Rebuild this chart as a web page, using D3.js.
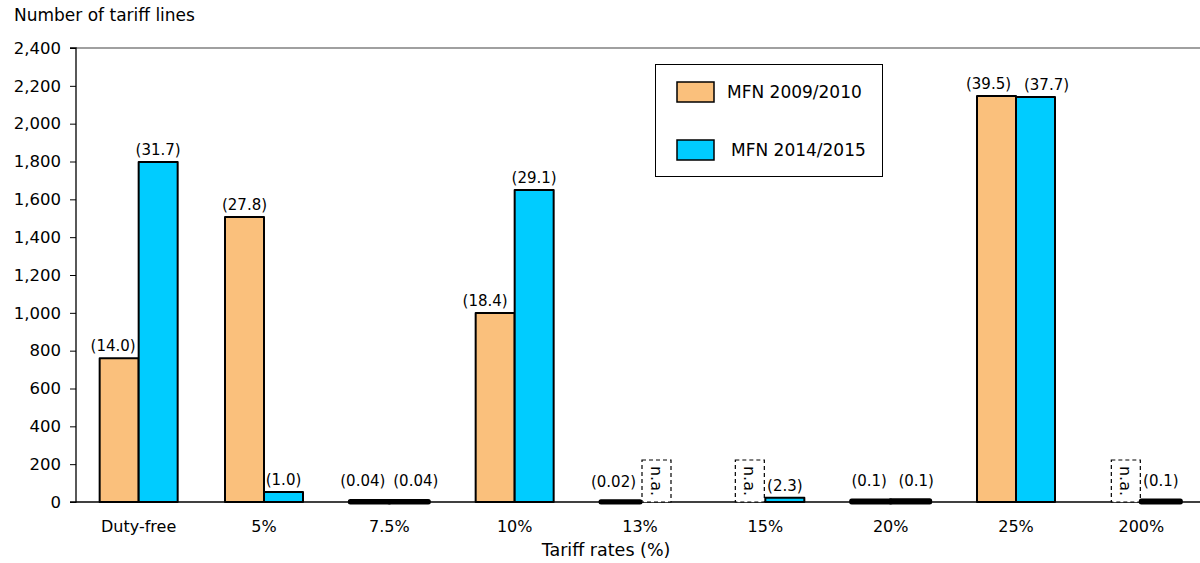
<!DOCTYPE html>
<html><head><meta charset="utf-8">
<script src="https://cdn.jsdelivr.net/npm/d3@7"></script>
<style>body{margin:0;background:#fff}svg{display:block;font-family:"DejaVu Sans",Verdana,sans-serif}</style>
</head><body>
<svg id="c" width="1200" height="563"></svg>
<script>
const categories = ["Duty-free","5%","7.5%","10%","13%","15%","20%","25%","200%"];
const seriesNames = ["MFN 2009/2010","MFN 2014/2015"];
const values2010 = [760, 1507, 3, 999, 1, null, 5, 2146, null];
const values2015 = [1797, 53, 3, 1650, null, 22, 6, 2141, 5];
const labels2010 = ["(14.0)","(27.8)","(0.04)","(18.4)","(0.02)","n.a.","(0.1)","(39.5)","n.a."];
const labels2015 = ["(31.7)","(1.0)","(0.04)","(29.1)","n.a.","(2.3)","(0.1)","(37.7)","(0.1)"];
const yTicks = [0,200,400,600,800,1000,1200,1400,1600,1800,2000,2200,2400];
const colors = ["#FAC07C","#00CCFF"];

// layout: horizontal nudges of value labels (px)
const labelNudge = [
  [-6, 0, -7, -10, -7, 0, -2, -8, 0],
  [0, 0, 7, 0, 0, 0, 6, 11, 0]
];

const svg = d3.select("#c");
const m = {l:76, t:48, b:61};
const W = 1204, H = 563;
const x = d3.scaleBand().domain(categories).range([m.l, W]).paddingInner(0.38).paddingOuter(0.19);
const y = d3.scaleLinear().domain([0,2400]).range([H-m.b, m.t]);
const bw = 39;

svg.append("line").attr("x1",m.l).attr("x2",1200).attr("y1",y(2400)).attr("y2",y(2400)).attr("stroke","#808080").attr("stroke-width",1.3);

const ya = svg.append("g").attr("transform",`translate(${m.l},0)`)
  .call(d3.axisLeft(y).tickValues(yTicks).tickSize(6).tickPadding(9).tickFormat(d3.format(",")));
ya.select(".domain").attr("stroke","#000").attr("stroke-width",1.3).attr("d",`M-6,${y(2400)}H0V${y(0)}H-6`);
ya.selectAll(".tick line").attr("stroke","#000");
ya.selectAll("text").attr("font-size",16.5).attr("font-family","DejaVu Sans").attr("fill","#000");

svg.append("text").attr("x",14).attr("y",21).attr("font-size",17).text("Number of tariff lines");

const series = [values2010, values2015];
const labs = [labels2010, labels2015];
const cx = c => x(c) + x.bandwidth()/2;
const barG = svg.append("g"), labG = svg.append("g");
series.forEach((vals, si) => {
  categories.forEach((c, i) => {
    const v = vals[i];
    const x0 = si === 0 ? cx(c) - bw : cx(c);
    if (v === null) {
      const bx = si === 0 ? cx(c) - 30 : cx(c) + 2;
      barG.append("rect").attr("x",bx).attr("y",y(0)-42).attr("width",29).attr("height",42)
        .attr("fill","#fff").attr("stroke","#000").attr("stroke-width",1.2).attr("stroke-dasharray","4,3");
      labG.append("text").attr("transform",`translate(${bx+14.5},${y(0)-21}) rotate(90)`)
        .attr("text-anchor","middle").attr("dominant-baseline","central").attr("font-size",16).text(labs[si][i]);
      return;
    }
    barG.append("rect").attr("x",x0).attr("y",y(v)).attr("width",bw).attr("height",y(0)-y(v))
      .attr("fill",colors[si]).attr("stroke","#000").attr("stroke-width", v < 10 ? 5 : 2)
      .attr("stroke-linejoin","round");
    labG.append("text").attr("x",x0 + bw/2 + labelNudge[si][i]).attr("y",y(v) - (v<10?15:7)).attr("text-anchor","middle")
      .attr("font-size",15).text(labs[si][i]);
  });
});

svg.append("line").attr("x1",m.l).attr("x2",1200).attr("y1",y(0)).attr("y2",y(0)).attr("stroke","#000").attr("stroke-width",1.3);
barG.raise(); labG.raise();
categories.forEach(c => {
  svg.append("text").attr("x",cx(c)).attr("y",532).attr("text-anchor","middle").attr("font-size",16).text(c);
});
svg.append("text").attr("x",606).attr("y",556).attr("text-anchor","middle").attr("font-size",17.5).text("Tariff rates (%)");

const lg = svg.append("g");
lg.append("rect").attr("x",655.5).attr("y",64.5).attr("width",227).attr("height",112).attr("fill","#fff").attr("stroke","#000").attr("stroke-width",1);
[[82,727],[140,731]].forEach((p,i) => {
  lg.append("rect").attr("x",677).attr("y",p[0]).attr("width",37).attr("height",20).attr("fill",colors[i]).attr("stroke","#000").attr("stroke-width",1.5);
  lg.append("text").attr("x",p[1]).attr("y",p[0]+10).attr("dominant-baseline","central").attr("font-size",17).text(seriesNames[i]);
});
</script>
</body></html>
